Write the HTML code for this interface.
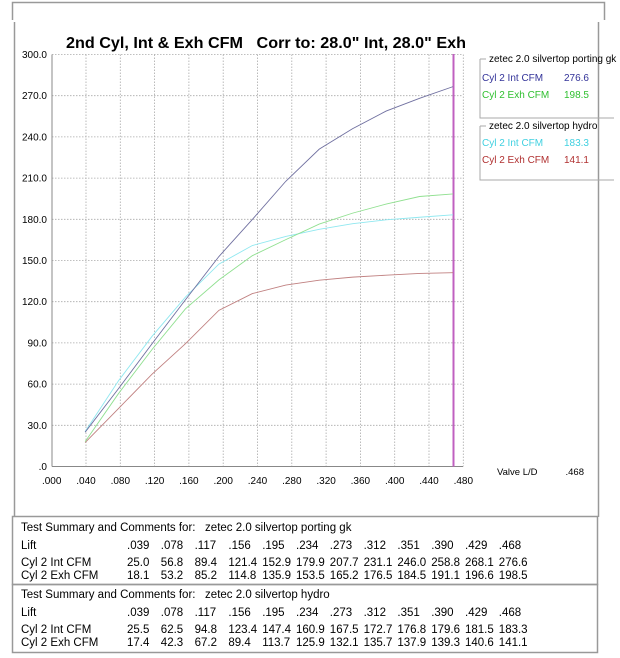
<!DOCTYPE html>
<html><head><meta charset="utf-8"><style>
body{margin:0;background:#fff;width:620px;height:658px;overflow:hidden}
svg{display:block;font-family:"Liberation Sans",Arial,sans-serif}
text{white-space:pre}
</style></head><body>
<svg width="620" height="658" viewBox="0 0 620 658" xmlns="http://www.w3.org/2000/svg" xml:space="preserve">
<path d="M12.5 20V2.5H604.5V20" fill="none" stroke="#999" stroke-width="1.5"/>
<path d="M14.5 517V22M598.5 22V517" fill="none" stroke="#999" stroke-width="1.5"/>
<text x="66" y="48" font-size="16" font-weight="bold" textLength="400" lengthAdjust="spacingAndGlyphs">2nd Cyl, Int &amp; Exh CFM   Corr to: 28.0" Int, 28.0" Exh</text>
<g stroke="#aaa" stroke-width="0.8" stroke-dasharray="1.5,1.5" fill="none" id="grid"></g>
<g font-size="10" text-anchor="end" id="ylab"></g>
<g font-size="10" text-anchor="middle" id="xlab"></g>
<line x1="52" y1="54.5" x2="52" y2="466.5" stroke="#888"/>
<line x1="52" y1="466.5" x2="463" y2="466.5" stroke="#888"/>
<line x1="453.5" y1="54" x2="453.5" y2="466.5" stroke="#c060c0" stroke-width="2"/>
<g fill="none" stroke-width="0.9" id="curves"></g>
<text x="497" y="475" font-size="9.5">Valve L/D</text>
<text x="584" y="475" font-size="9.5" text-anchor="end">.468</text>
<g font-size="10">
<path d="M480 59H486M480 59V118H614" fill="none" stroke="#aaa"/>
<text x="489" y="62">zetec 2.0 silvertop porting gk</text>
<text x="482" y="81" fill="#333399">Cyl 2 Int CFM</text><text x="589" y="81" fill="#333399" text-anchor="end">276.6</text>
<text x="482" y="98" fill="#30c030">Cyl 2 Exh CFM</text><text x="589" y="98" fill="#30c030" text-anchor="end">198.5</text>
<path d="M480 126H486M480 126V180H614" fill="none" stroke="#aaa"/>
<text x="489" y="129">zetec 2.0 silvertop hydro</text>
<text x="482" y="146" fill="#40d0e0">Cyl 2 Int CFM</text><text x="589" y="146" fill="#40d0e0" text-anchor="end">183.3</text>
<text x="482" y="163" fill="#b03030">Cyl 2 Exh CFM</text><text x="589" y="163" fill="#b03030" text-anchor="end">141.1</text>
</g>
<rect x="12.5" y="516.5" width="585" height="68" fill="none" stroke="#999" stroke-width="1.5"/>
<rect x="12.5" y="584.5" width="585" height="68" fill="none" stroke="#999" stroke-width="1.5"/>
<g font-size="11.5" id="tbl"></g>
</svg>
<script>
var ns="http://www.w3.org/2000/svg";
function el(p,t,a,txt){var e=document.createElementNS(ns,t);for(var k in a)e.setAttribute(k,a[k]);if(txt!=null)e.textContent=txt;document.getElementById(p).appendChild(e);}
var X=function(v){return 51.7+v/0.04*34.3},Y=function(v){return 466.5-v/30*41.2};
for(var i=1;i<=12;i++){el("grid","line",{x1:X(i*0.04),y1:54.5,x2:X(i*0.04),y2:466.5});}
for(var j=1;j<=10;j++){el("grid","line",{x1:52,y1:Y(j*30),x2:463,y2:Y(j*30)});}
for(var j=0;j<=10;j++){el("ylab","text",{x:47,y:Y(j*30)+3.5},j==0?".0":(j*30).toFixed(1));}
for(var i=0;i<=12;i++){el("xlab","text",{x:X(i*0.04),y:484},(i*0.04).toFixed(3).replace(/^0/,""));}
var L=[.039,.078,.117,.156,.195,.234,.273,.312,.351,.390,.429,.468];
var D=[[25.0,56.8,89.4,121.4,152.9,179.9,207.7,231.1,246.0,258.8,268.1,276.6],
[18.1,53.2,85.2,114.8,135.9,153.5,165.2,176.5,184.5,191.1,196.6,198.5],
[25.5,62.5,94.8,123.4,147.4,160.9,167.5,172.7,176.8,179.6,181.5,183.3],
[17.4,42.3,67.2,89.4,113.7,125.9,132.1,135.7,137.9,139.3,140.6,141.1]];
var C=["#7070a0","#90e090","#90e8f0","#c08080"];
[2,3,1,0].forEach(function(k){el("curves","polyline",{stroke:C[k],points:L.map(function(l,i){return X(l)+","+Y(D[k][i])}).join(" ")});});
var lift=L.map(function(v){return v.toFixed(3).replace(/^0/,"")});
function tb(y0,name,a,b){
 el("tbl","text",{x:21,y:y0},"Test Summary and Comments for:   "+name);
 var rows=[["Lift",lift,y0+18],["Cyl 2 Int CFM",a.map(function(v){return v.toFixed(1)}),y0+35],["Cyl 2 Exh CFM",b.map(function(v){return v.toFixed(1)}),y0+48]];
 rows.forEach(function(r){el("tbl","text",{x:21,y:r[2]},r[0]);r[1].forEach(function(t,i){el("tbl","text",{x:127+i*33.8,y:r[2]},t);});});
}
tb(531,"zetec 2.0 silvertop porting gk",D[0],D[1]);
tb(598,"zetec 2.0 silvertop hydro",D[2],D[3]);
</script>
</body></html>
